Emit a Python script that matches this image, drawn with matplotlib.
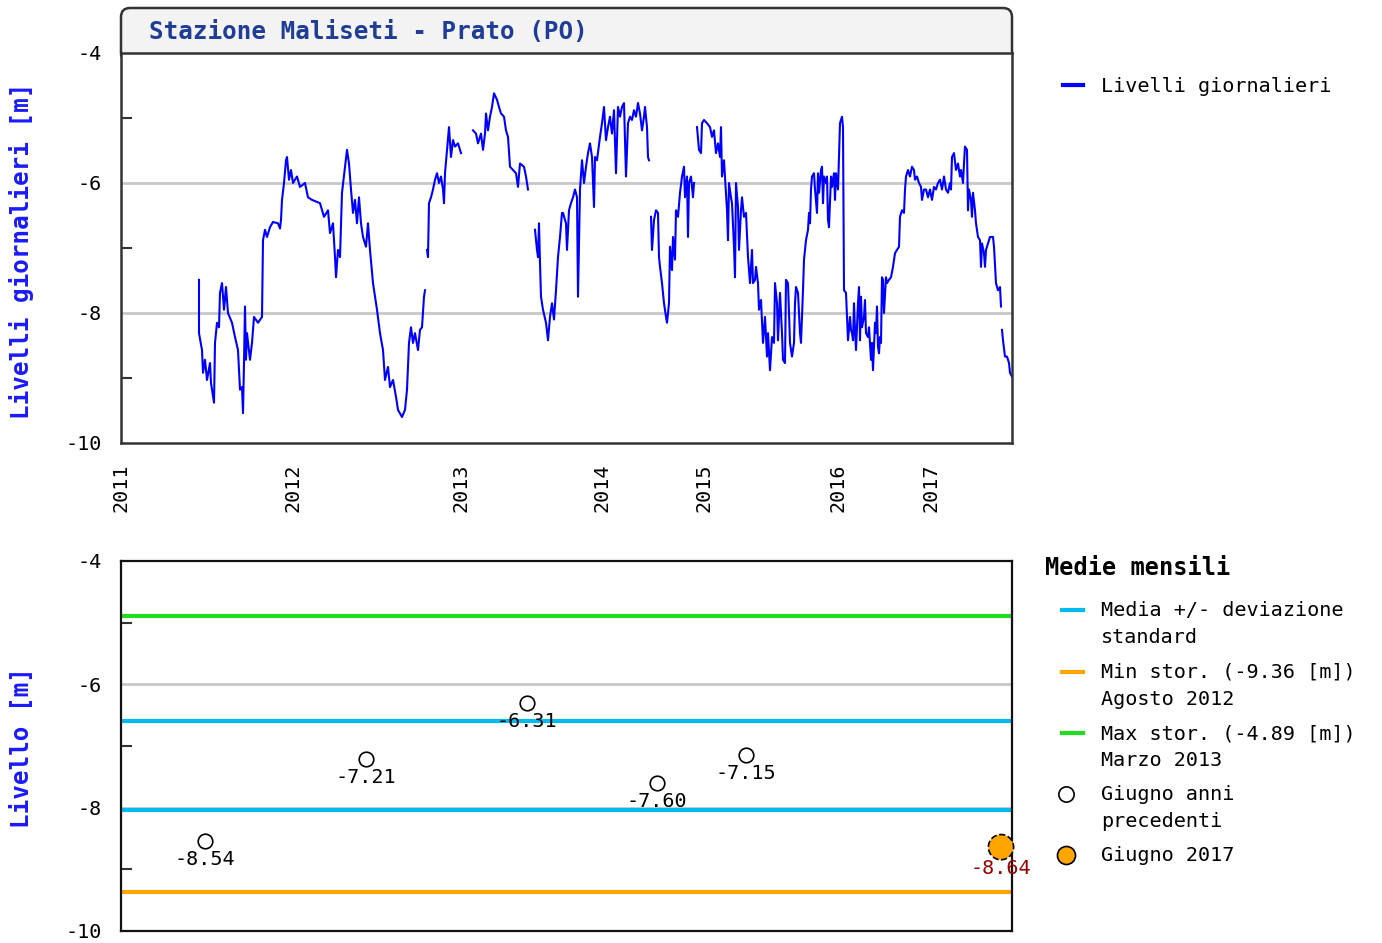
import numpy as np
import matplotlib
matplotlib.use("Agg")
import matplotlib.pyplot as plt
from matplotlib.patches import FancyBboxPatch
from matplotlib.lines import Line2D

# ---------------- data ----------------
# ordinal position along the series (arbitrary index scale) and daily level [m]
idx = [199, 199, 202, 203, 205, 207, 210, 211, 214, 215, 217, 219, 220, 222, 224, 226, 228, 232, 235, 238,
       240, 242, 243, 244, 245, 246, 247, 250, 252, 254, 258, 262, 263, 265, 267, 270, 273, 278, 280, 281,
       282, 284, 286, 287, 289, 291, 293, 297, 300, 305, 308, 312, 320, 324, 328, 330, 333, 335, 336, 338,
       340, 342, 345, 347, 349, 351, 353, 355, 357, 359, 361, 363, 366, 368, 370, 373, 377, 380, 383, 385,
       388, 390, 393, 396, 398, 402, 405, 407, 409, 411, 413, 415, 418, 420, 422, 424, 425, 426, 427, 428,
       429, 431, 433, 435, 437, 439, 441, 443, 444, 445, 447, 449, 451, 453, 455, 458, 461, 467, 473, 476,
       478, 481, 483, 485, 486, 488, 490, 492, 494, 497, 499, 501, 504, 506, 508, 510, 513, 516, 518, 520,
       524, 526, 528, 531, 535, 537, 538, 539, 540, 541, 543, 546, 548, 550, 552, 554, 556, 558, 560, 562,
       563, 566, 567, 569, 571, 573, 575, 577, 578, 580, 582, 584, 586, 588, 590, 592, 594, 595, 597, 600,
       602, 604, 606, 608, 610, 612, 614, 616, 618, 620, 622, 624, 626, 628, 630, 632, 634, 636, 638, 640,
       642, 644, 645, 647, 648, 649, 650, 651, 652, 654, 656, 658, 659, 660, 662, 664, 666, 667, 669, 670,
       672, 673, 675, 676, 678, 680, 682, 684, 685, 687, 688, 689, 691, 693, 694, 695, 697, 699, 701, 702,
       704, 707, 710, 712, 714, 716, 718, 720, 721, 722, 724, 726, 727, 728, 729, 731, 732, 734, 735, 736,
       738, 739, 741, 742, 744, 746, 748, 750, 752, 753, 755, 756, 758, 759, 761, 763, 765, 767, 768, 770,
       772, 774, 775, 777, 778, 780, 782, 783, 785, 786, 788, 790, 791, 792, 794, 795, 796, 798, 800, 801,
       803, 804, 806, 808, 809, 810, 811, 812, 814, 815, 817, 818, 819, 821, 822, 823, 824, 826, 827, 828,
       829, 831, 832, 834, 835, 836, 838, 840, 842, 843, 844, 846, 847, 848, 850, 851, 852, 853, 854, 855,
       856, 858, 859, 860, 861, 862, 864, 865, 866, 868, 869, 870, 871, 872, 873, 875, 876, 877, 878, 879,
       880, 881, 882, 883, 884, 886, 887, 889, 891, 893, 895, 897, 899, 900, 902, 904, 905, 906, 908, 910,
       912, 914, 915, 917, 919, 921, 922, 924, 926, 928, 930, 932, 934, 936, 938, 940, 942, 944, 946, 948,
       950, 951, 952, 954, 956, 958, 960, 961, 963, 964, 965, 967, 968, 969, 971, 972, 973, 975, 976, 978,
       980, 981, 982, 984, 985, 986, 988, 990, 993, 994, 996, 998, 1000, 1001, 1001.5, 1002, 1003, 1005,
       1007, 1009, 1010, 1012]
nan = float("nan")
livelli = [-7.49, -8.31, -8.57, -8.92, -8.72, -9.03, -8.77, -9.08, -9.38, -8.46, -8.15, -8.22, -7.69, -7.54, -7.95, -7.60, -8.00, -8.15, -8.37, -8.57,
           -9.18, -9.14, -9.54, -8.77, -7.90, -8.72, -8.31, -8.72, -8.46, -8.06, -8.15, -8.06, -6.88, -6.72, -6.83, -6.68, -6.60, -6.62, -6.70, -6.57,
           -6.26, -6.00, -5.65, -5.60, -5.95, -5.80, -6.00, -5.90, -6.06, -6.00, -6.22, -6.26, -6.31, -6.52, -6.42, -6.77, -6.62, -7.14, -7.45, -7.03,
           -7.14, -6.15, -5.75, -5.49, -5.70, -6.10, -6.46, -6.26, -6.62, -6.22, -6.62, -6.83, -6.98, -6.62, -7.03, -7.54, -7.95, -8.31, -8.57, -9.03,
           -8.83, -9.14, -9.03, -9.29, -9.49, -9.60, -9.49, -9.18, -8.46, -8.22, -8.46, -8.31, -8.57, -8.26, -8.22, -7.75, -7.65, nan, -7.03, -7.14,
           -6.31, -6.22, -6.10, -5.95, -5.85, -6.00, -5.90, -6.10, -6.31, -5.85, -5.49, -5.14, -5.60, -5.34, -5.44, -5.39, -5.54, nan, -5.19, -5.24,
           -5.39, -5.24, -5.49, -5.24, -4.93, -5.19, -4.98, -4.83, -4.62, -4.72, -4.83, -4.93, -4.98, -5.19, -5.29, -5.75, -5.80, -5.85, -6.06, -5.70,
           -5.75, -5.90, -6.10, nan, -6.72, -7.03, -7.14, -6.62, -7.23, -7.75, -7.95, -8.15, -8.42, -8.06, -7.85, -8.10, -7.65, -7.14, -6.83, -6.46,
           -6.46, -6.62, -7.03, -6.42, -6.31, -6.22, -6.10, -6.22, -7.75, -6.10, -5.65, -6.00, -5.75, -5.54, -5.39, -5.60, -6.37, -5.60, -5.65, -5.29,
           -5.08, -4.83, -5.34, -5.14, -4.98, -5.24, -4.88, -5.85, -4.83, -4.98, -4.83, -4.77, -5.90, -5.08, -4.98, -5.03, -4.88, -4.98, -4.77, -4.93,
           -5.19, -4.98, -4.83, -5.14, -5.60, -5.65, nan, -6.52, -7.03, -6.57, -6.42, -6.46, -7.14, -7.29, -7.54, -7.85, -8.06, -8.15, -7.85, -6.98,
           -7.34, -6.83, -7.18, -6.42, -6.52, -6.15, -5.90, -5.75, -6.22, -5.90, -6.83, -6.00, -5.90, -6.22, -6.00, nan, -5.14, -5.49, -5.54, -5.08,
           -5.03, -5.08, -5.14, -5.29, -5.19, -5.54, -5.39, -5.60, -5.14, -5.90, -5.65, -6.15, -6.42, -6.88, -6.00, -6.22, -6.31, -6.98, -7.45, -6.00,
           -6.37, -7.03, -6.42, -6.22, -6.52, -6.46, -7.14, -7.54, -7.03, -7.54, -7.49, -7.29, -7.54, -7.95, -7.80, -8.46, -8.06, -8.67, -8.31, -8.88,
           -8.37, -8.46, -7.54, -7.85, -8.42, -7.69, -8.31, -8.72, -8.77, -7.49, -7.54, -8.46, -8.57, -8.67, -8.46, -7.85, -7.60, -7.69, -8.31, -8.46,
           -7.65, -7.18, -6.88, -6.72, -6.46, -6.62, -6.10, -5.90, -5.85, -6.10, -6.46, -5.85, -6.15, -5.80, -5.75, -6.31, -5.90, -6.00, -5.90, -6.57,
           -6.68, -5.90, -6.06, -5.85, -6.26, -5.85, -6.10, -5.08, -4.98, -5.14, -7.65, -7.69, -8.06, -8.42, -8.06, -8.26, -8.31, -8.42, -7.85, -8.26,
           -8.57, -7.85, -7.60, -8.42, -7.75, -8.22, -8.06, -7.80, -8.31, -8.37, -8.22, -8.46, -8.72, -8.46, -8.88, -8.15, -8.31, -7.90, -8.52, -8.62,
           -8.37, -8.46, -7.45, -7.49, -8.00, -7.45, -7.54, -7.49, -7.45, -7.29, -7.08, -7.03, -6.98, -6.52, -6.42, -6.46, -6.10, -5.90, -5.80, -5.90,
           -5.75, -5.80, -5.95, -5.90, -6.00, -6.06, -6.26, -6.10, -6.10, -6.22, -6.10, -6.26, -6.06, -6.10, -6.00, -5.95, -6.10, -5.90, -6.10, -6.15,
           -6.00, -6.10, -5.60, -5.54, -5.80, -5.70, -5.90, -5.80, -6.00, -5.70, -5.44, -5.49, -6.42, -6.10, -6.26, -6.52, -6.15, -6.42, -6.62, -6.83,
           -6.88, -7.29, -6.93, -7.08, -7.29, -7.03, -6.93, -6.83, -6.83, -6.98, -7.54, -7.65, -7.60, -7.90, nan, -8.26, -8.42, -8.67,
           -8.67, -8.77, -8.92, -8.98]

anni = ["2011", "2012", "2013", "2014", "2015", "2016", "2017"]
anni_idx = [121, 293, 461, 602, 704, 838, 931]

# monthly means (June)
giugno_idx = [205, 366, 527, 657, 746]
giugno_val = [-8.54, -7.21, -6.31, -7.60, -7.15]
giugno17_idx = [1001]
giugno17_val = [-8.64]
media_sup = -6.59
media_inf = -8.04
min_stor = -9.36
max_stor = -4.89

legenda_titolo = "Medie mensili"
legenda_voci = ["Media +/- deviazione\nstandard", "Min stor. (-9.36 [m])\nAgosto 2012",
                "Max stor. (-4.89 [m])\nMarzo 2013", "Giugno anni\nprecedenti", "Giugno 2017"]

# ---------------- figure ----------------
W, H = 1382, 943
fig = plt.figure(figsize=(W / 100, H / 100), dpi=100)
mono = "DejaVu Sans Mono"
frame_col = "#333333"
grid_col = "#c8c8c8"
c_med, c_min, c_max, c_17 = "#00bbee", "#ffa500", "#22dd22", "#ffa500"

ax1 = fig.add_axes([121 / W, 1 - 443 / H, 891 / W, 390 / H])
ax2 = fig.add_axes([121 / W, 1 - 931 / H, 891 / W, 370 / H])

# title bar
bar = FancyBboxPatch((121, H - 62), 891, 54, boxstyle="round,pad=0,rounding_size=9",
                     transform=None, facecolor="#f3f3f3", edgecolor=frame_col, linewidth=1.8, zorder=-1)
fig.patches.append(bar)
fig.text(149 / W, 1 - 32 / H, "Stazione Maliseti - Prato (PO)", family=mono, weight="bold",
         fontsize=17.5, color="#1f3c96", va="center", ha="left")

# ---- top panel ----
ax1.plot(idx, livelli, color="#0000ff", linewidth=1.5, label="Livelli giornalieri")
ax1.set_xlim(121, 1012)
ax1.set_ylim(-10, -4)
ax1.set_yticks([-10, -8, -6, -4])
ax1.set_yticklabels(["-10", "-8", "-6", "-4"])
ax1.set_yticks([-9, -7, -5], minor=True)
ax1.set_xticks(anni_idx)
ax1.set_xticklabels(anni, rotation=90, family=mono, fontsize=14.5)
ax1.tick_params(axis="x", length=0, pad=15)
ax1.tick_params(axis="y", which="major", length=0, pad=14, labelsize=14.5)
ax1.tick_params(axis="y", which="minor", direction="in", length=8, width=1.5, color=frame_col)
for lab in ax1.get_yticklabels():
    lab.set_family(mono)
for y in (-8, -6):
    ax1.axhline(y, color=grid_col, linewidth=2, zorder=0)
for s in ax1.spines.values():
    s.set_color(frame_col)
    s.set_linewidth(1.8)
fig.text(22 / W, 1 - 251 / H, "Livelli giornalieri [m]", rotation=90, family=mono, weight="bold",
         fontsize=17.5, color="#1a1aff", ha="center", va="center")
ax1.legend(loc="upper left", bbox_to_anchor=(1045 / W, 1 - 59 / H), bbox_transform=fig.transFigure,
           frameon=False, prop={"family": mono, "size": 14.5}, handlelength=1.0, handletextpad=0.9)
for l in ax1.get_legend().get_lines():
    l.set_linewidth(3)

# ---- bottom panel ----
ax2.set_xlim(121, 1012)
ax2.set_ylim(-10, -4)
for y in (-8, -6):
    ax2.axhline(y, color=grid_col, linewidth=2, zorder=0)
ax2.axhline(media_sup, color=c_med, linewidth=3, zorder=1)
ax2.axhline(media_inf, color=c_med, linewidth=3, zorder=1)
ax2.axhline(min_stor, color=c_min, linewidth=3, zorder=1)
ax2.axhline(max_stor, color=c_max, linewidth=3, zorder=1)
ax2.scatter(giugno_idx, giugno_val, s=110, facecolor="white", edgecolor="black", linewidth=1.2, zorder=3)
for xv, yv in zip(giugno_idx, giugno_val):
    ax2.annotate(f"{yv:.2f}", (xv, yv), xytext=(0, -9), textcoords="offset pixels",
                 ha="center", va="top", family=mono, fontsize=14.5, color="black", zorder=4)
ax2.scatter(giugno17_idx, giugno17_val, s=330, facecolor=c_17, edgecolor="black",
            linewidth=1.2, linestyle="--", zorder=5, clip_on=False)
for xv, yv in zip(giugno17_idx, giugno17_val):
    ax2.annotate(f"{yv:.2f}", (xv, yv), xytext=(0, -12), textcoords="offset pixels",
                 ha="center", va="top", family=mono, fontsize=14.5, color="#990000",
                 zorder=6, annotation_clip=False)
ax2.set_xticks([])
ax2.set_yticks([-10, -8, -6, -4])
ax2.set_yticklabels(["-10", "-8", "-6", "-4"])
ax2.set_yticks([-9, -7, -5], minor=True)
ax2.tick_params(axis="y", which="major", length=0, pad=14, labelsize=14.5)
ax2.tick_params(axis="y", which="minor", direction="in", length=8, width=1.5, color=frame_col)
for lab in ax2.get_yticklabels():
    lab.set_family(mono)
for s in ax2.spines.values():
    s.set_color("#111111")
    s.set_linewidth(1.6)
fig.text(22 / W, 1 - 748 / H, "Livello [m]", rotation=90, family=mono, weight="bold",
         fontsize=17.5, color="#1a1aff", ha="center", va="center")

# legend of the monthly panel (laid out like the original: handle aligned with first text line)
fig.text(1045 / W, 1 - 568 / H, legenda_titolo, family=mono, weight="bold", fontsize=17,
         ha="left", va="center")
voce_y = [610, 672, 733, 794, 855]
stili = [("line", c_med), ("line", c_min), ("line", c_max), ("open", None), ("fill", c_17)]
for (kind, col), yy, txt in zip(stili, voce_y, legenda_voci):
    yf = 1 - yy / H
    if kind == "line":
        fig.add_artist(Line2D([1062 / W, 1083 / W], [yf, yf], transform=fig.transFigure,
                              color=col, linewidth=3))
    elif kind == "open":
        fig.add_artist(Line2D([1066 / W], [yf], transform=fig.transFigure, linestyle="none",
                              marker="o", markersize=11, markerfacecolor="white",
                              markeredgecolor="black", markeredgewidth=1.2))
    else:
        fig.add_artist(Line2D([1066 / W], [yf], transform=fig.transFigure, linestyle="none",
                              marker="o", markersize=13, markerfacecolor=col,
                              markeredgecolor="black", markeredgewidth=1.2))
    fig.text(1101 / W, yf + 9 / H, txt, family=mono, fontsize=14.5, ha="left", va="top",
             linespacing=1.55)

fig.savefig("out.png", dpi=100)
